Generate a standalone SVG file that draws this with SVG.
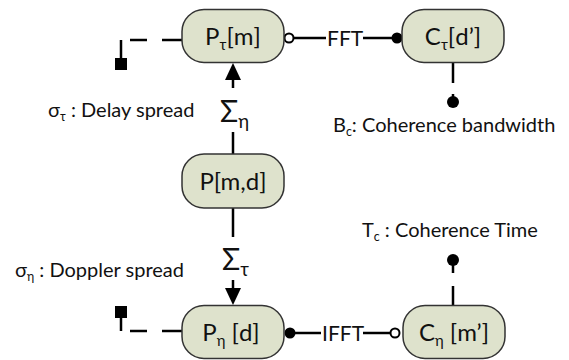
<svg xmlns="http://www.w3.org/2000/svg" width="569" height="360" viewBox="0 0 569 360">
<style>
.node rect{fill:#dee2cc;stroke:#333;stroke-width:1.5}
.nt{font-family:Lato,"Noto Sans",sans-serif;font-size:24px;fill:#111;text-anchor:middle}
.lb{font-family:Lato,"Noto Sans",sans-serif;font-size:20px;fill:#111}
.sg{font-family:Lato,"Noto Sans",sans-serif;font-size:30px;fill:#111}
.ln{stroke:#000;stroke-width:2.5;fill:none}
.sub{font-size:0.62em}
</style>
<g id="connectors">
  <line class="ln" x1="182" y1="40" x2="162" y2="40"/>
  <line class="ln" x1="147" y1="40" x2="130" y2="40"/>
  <line class="ln" x1="121" y1="40" x2="121" y2="58"/>
  <rect x="115" y="58" width="12" height="12" fill="#000"/>
  <line class="ln" x1="293.5" y1="38" x2="326" y2="38"/>
  <line class="ln" x1="363" y1="38" x2="396" y2="38"/>
  <circle cx="289" cy="38" r="4.5" fill="#fff" stroke="#000" stroke-width="2"/>
  <circle cx="397" cy="38" r="5.5" fill="#000"/>
  <text class="lb" x="327" y="46" style="font-size:21px">FFT</text>
  <line class="ln" x1="453" y1="63" x2="453" y2="83"/>
  <line class="ln" x1="453" y1="94" x2="453" y2="100"/>
  <circle cx="453" cy="102" r="6" fill="#000"/>
  <line class="ln" x1="233" y1="154" x2="233" y2="132"/>
  <line class="ln" x1="233" y1="88" x2="233" y2="78"/>
  <path d="M233,63 L241,80 L225,80 Z" fill="#000"/>
  <line class="ln" x1="233" y1="208" x2="233" y2="237"/>
  <line class="ln" x1="233" y1="280" x2="233" y2="290"/>
  <path d="M233,305 L241,288 L225,288 Z" fill="#000"/>
  <rect x="115" y="306" width="12" height="12" fill="#000"/>
  <line class="ln" x1="121" y1="318" x2="121" y2="331"/>
  <line class="ln" x1="130" y1="331" x2="147" y2="331"/>
  <line class="ln" x1="162" y1="331" x2="182" y2="331"/>
  <line class="ln" x1="290" y1="333" x2="321" y2="333"/>
  <line class="ln" x1="363" y1="333" x2="390.5" y2="333"/>
  <circle cx="290" cy="333" r="5.5" fill="#000"/>
  <circle cx="395" cy="333" r="4.5" fill="#fff" stroke="#000" stroke-width="2"/>
  <text class="lb" x="322" y="341" style="font-size:21px">IFFT</text>
  <line class="ln" x1="453" y1="305" x2="453" y2="286"/>
  <line class="ln" x1="453" y1="273" x2="453" y2="262"/>
  <circle cx="453" cy="260" r="6" fill="#000"/>
</g>
<g id="Ptau" class="node">
  <rect x="182" y="9.5" width="102" height="53" rx="22"/>
  <text class="nt" x="233" y="45">P<tspan class="sub" dy="5">τ</tspan><tspan dy="-5">[m]</tspan></text>
</g>
<g id="Ctau" class="node">
  <rect x="402" y="9.5" width="102" height="53" rx="22"/>
  <text class="nt" x="453" y="45">C<tspan class="sub" dy="5">τ</tspan><tspan dy="-5">[d’]</tspan></text>
</g>
<g id="Pmd" class="node">
  <rect x="182" y="154" width="102" height="54" rx="22"/>
  <text class="nt" x="233" y="190">P[m,d]</text>
</g>
<g id="Peta" class="node">
  <rect x="182" y="305.5" width="102" height="53" rx="22"/>
  <text class="nt" x="231" y="341">P<tspan class="sub" dy="5">η</tspan><tspan dy="-5"> [d]</tspan></text>
</g>
<g id="Ceta" class="node">
  <rect x="403" y="305.5" width="102" height="53" rx="22"/>
  <text class="nt" x="454" y="341">C<tspan class="sub" dy="5">η</tspan><tspan dy="-5"> [m’]</tspan></text>
</g>
<g id="labels">
  <text class="lb" x="48" y="117">σ<tspan class="sub" dy="4">τ</tspan><tspan dy="-4"> : Delay spread</tspan></text>
  <text class="sg" x="220" y="122">Σ<tspan class="sub" dy="6">η</tspan></text>
  <text class="lb" x="333" y="132">B<tspan class="sub" dy="4">c</tspan><tspan dy="-4">: Coherence bandwidth</tspan></text>
  <text class="lb" x="362" y="237">T<tspan class="sub" dy="4">c</tspan><tspan dy="-4"> : Coherence Time</tspan></text>
  <text class="lb" x="15" y="277">σ<tspan class="sub" dy="4">η</tspan><tspan dy="-4">  : Doppler spread</tspan></text>
  <text class="sg" x="222" y="270">Σ<tspan class="sub" dy="6">τ</tspan></text>
</g>
</svg>
